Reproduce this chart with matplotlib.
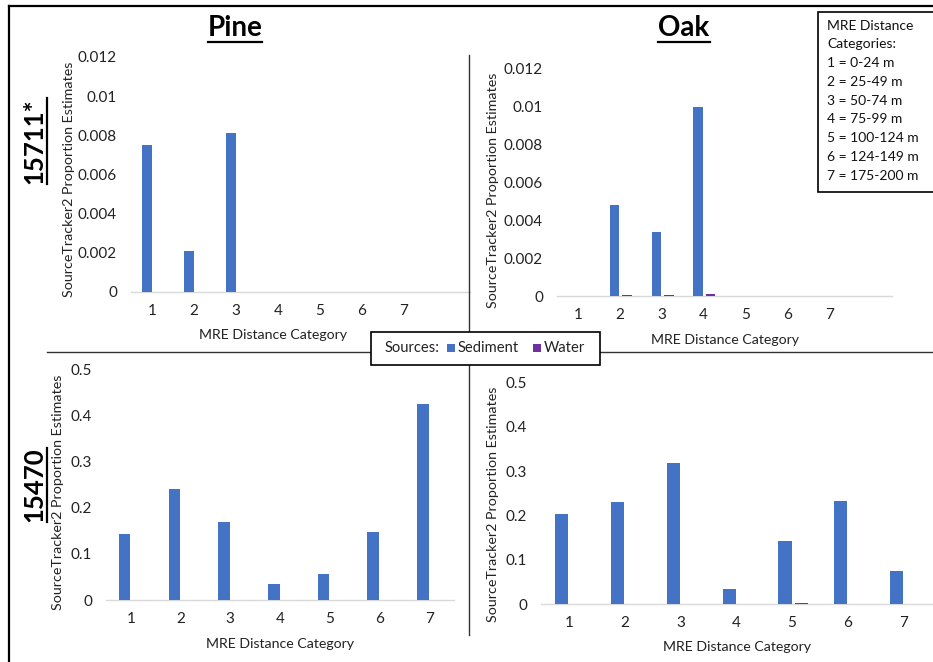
import matplotlib
matplotlib.use('Agg')
import matplotlib.pyplot as plt
from matplotlib.lines import Line2D
from matplotlib.patches import Rectangle
import numpy as np

plt.rcParams['font.family'] = ['Lato', 'DejaVu Sans']

# ---------------- data ----------------
categories = [1, 2, 3, 4, 5, 6, 7]
pine_15711_sediment = [0.0075, 0.0021, 0.0081, 0, 0, 0, 0]
pine_15711_water = [0, 0, 0, 0, 0, 0, 0]
oak_15711_sediment = [0, 0.0048, 0.0034, 0.0100, 0, 0, 0]
oak_15711_water = [0, 0.00006, 0.00005, 0.00012, 0, 0, 0]
pine_15470_sediment = [0.143, 0.240, 0.170, 0.035, 0.057, 0.147, 0.424]
pine_15470_water = [0, 0, 0, 0, 0, 0, 0]
oak_15470_sediment = [0.204, 0.230, 0.319, 0.034, 0.142, 0.233, 0.074]
oak_15470_water = [0, 0, 0, 0, 0.003, 0, 0]
yticks_15711 = [0, 0.002, 0.004, 0.006, 0.008, 0.01, 0.012]
yticks_15470 = [0, 0.1, 0.2, 0.3, 0.4, 0.5]
column_titles = ["Pine", "Oak"]
row_titles = ["15711*", "15470"]
distance_legend = ["MRE Distance", "Categories:", "1 = 0-24 m", "2 = 25-49 m",
                   "3 = 50-74 m", "4 = 75-99 m", "5 = 100-124 m",
                   "6 = 124-149 m", "7 = 175-200 m"]
source_names = ["Sediment", "Water"]
source_colors = ["#4472C4", "#7030A0"]
xlabel_text = "MRE Distance Category"
ylabel_text = "SourceTracker2 Proportion Estimates"

W, H = 933, 662
fig = plt.figure(figsize=(W / 100, H / 100), dpi=100)


def fx(px):
    return px / W


def fy(py):
    return 1 - py / H


panels = [
    dict(box=(131, 57, 470, 291.7), xlim=(0.5, 8.57), yt=yticks_15711,
         sed=pine_15711_sediment, wat=pine_15711_water, yl=(69, 179), xl=(273, 335)),
    dict(box=(557, 69, 892, 296), xlim=(0.5, 8.5), yt=yticks_15711,
         sed=oak_15711_sediment, wat=oak_15711_water, yl=(493, 190), xl=(725, 340)),
    dict(box=(106, 369.3, 454, 600), xlim=(0.5, 7.5), yt=yticks_15470,
         sed=pine_15470_sediment, wat=pine_15470_water, yl=(58, 492), xl=(280, 644)),
    dict(box=(541, 382.3, 933, 604.3), xlim=(0.5, 7.53), yt=yticks_15470,
         sed=oak_15470_sediment, wat=oak_15470_water, yl=(493, 504), xl=(737, 647)),
]

x = np.array(categories, dtype=float)
bw = 0.235
for p in panels:
    l, t, r, b = p['box']
    ax = fig.add_axes([fx(l), fy(b), fx(r) - fx(l), (b - t) / H])
    ax.bar(x - 0.125, p['sed'], width=bw, color=source_colors[0], zorder=3)
    ax.bar(x + 0.165, p['wat'], width=bw, color=source_colors[1], zorder=3)
    ax.set_xlim(*p['xlim'])
    ax.set_ylim(p['yt'][0], p['yt'][-1])
    ax.set_yticks(p['yt'])
    ax.set_yticklabels([f"{v:g}" for v in p['yt']])
    ax.set_xticks(categories)
    ax.set_xticklabels([str(c) for c in categories])
    ax.tick_params(axis='both', length=0, labelsize=11, colors='#222222')
    ax.tick_params(axis='y', pad=10)
    ax.tick_params(axis='x', pad=8.5)
    for s in ['top', 'right', 'left']:
        ax.spines[s].set_visible(False)
    ax.spines['bottom'].set_color('#d9d9d9')
    ax.spines['bottom'].set_linewidth(1)
    ax.set_facecolor('none')
    ax.set_ylabel(ylabel_text, fontsize=10.3, va='center', color='#222222')
    ax.yaxis.set_label_coords((p['yl'][0] - l) / (r - l), (b - p['yl'][1]) / (b - t))
    ax.set_xlabel(xlabel_text, fontsize=10.2, va='center', color='#222222')
    ax.xaxis.set_label_coords((p['xl'][0] - l) / (r - l), (b - p['xl'][1]) / (b - t))

# outer border and dividers
fig.add_artist(Line2D([fx(9), fx(9)], [fy(6), fy(662)], color='black', lw=1.6))
fig.add_artist(Line2D([fx(9), fx(933)], [fy(6), fy(6)], color='black', lw=1.6))
fig.add_artist(Line2D([fx(469), fx(469)], [fy(55), fy(635)], color='#333333', lw=1))
fig.add_artist(Line2D([fx(47), fx(933)], [fy(352), fy(352)], color='#333333', lw=1))

# titles
titles = []
titles.append(fig.text(fx(235), fy(28), column_titles[0], fontsize=20, fontweight='bold',
                       ha='center', va='center'))
titles.append(fig.text(fx(684), fy(28), column_titles[1], fontsize=20, fontweight='bold',
                       ha='center', va='center'))
rows = []
rows.append(fig.text(fx(34), fy(141), row_titles[0], fontsize=18.5, fontweight='bold',
                     ha='center', va='center', rotation=90))
rows.append(fig.text(fx(34), fy(485), row_titles[1], fontsize=18.5, fontweight='bold',
                     ha='center', va='center', rotation=90))

# distance legend box
fig.add_artist(Rectangle((fx(818), fy(192)), fx(940) - fx(818), (192 - 12) / H,
                         transform=fig.transFigure, fill=True, facecolor='white',
                         edgecolor='black', lw=1.2, zorder=5))
for i, line in enumerate(distance_legend):
    fig.text(fx(827), fy(25.7 + i * 18.75), line, fontsize=10, ha='left', va='center',
             zorder=6, color='#111111')

# sources legend box
fig.add_artist(Rectangle((fx(371), fy(365)), fx(600) - fx(371), (365 - 331.5) / H,
                         transform=fig.transFigure, facecolor='white',
                         edgecolor='black', lw=1.2, zorder=5))
fig.text(fx(385), fy(348), "Sources:", fontsize=10.6, ha='left', va='center', zorder=6,
         color='#222222')
for name, col, mx in zip(source_names, source_colors, [447, 533]):
    fig.add_artist(Rectangle((fx(mx), fy(352)), 8 / W, 8 / H, transform=fig.transFigure,
                             facecolor=col, edgecolor='none', zorder=6))
    fig.text(fx(mx + 11), fy(348), name, fontsize=10.6, ha='left', va='center', zorder=6,
             color='#222222')

# underlines
fig.canvas.draw()
renderer = fig.canvas.get_renderer()
inv = fig.transFigure.inverted()
for t in titles:
    bb = t.get_window_extent(renderer)
    (x0, y0), (x1, y1) = inv.transform([(bb.x0, bb.y0), (bb.x1, bb.y1)])
    fig.add_artist(Line2D([x0, x1], [y0 - 0.001, y0 - 0.001], color='black', lw=1.6))
for t in rows:
    bb = t.get_window_extent(renderer)
    (x0, y0), (x1, y1) = inv.transform([(bb.x0, bb.y0), (bb.x1, bb.y1)])
    fig.add_artist(Line2D([x1 + 0.001, x1 + 0.001], [y0, y1], color='black', lw=1.6))

fig.savefig('out.png', dpi=100)
